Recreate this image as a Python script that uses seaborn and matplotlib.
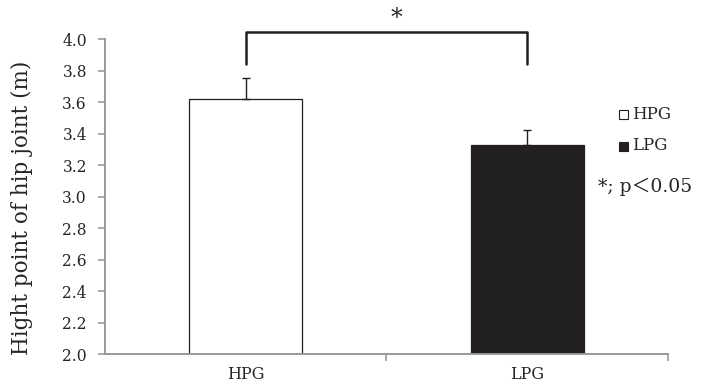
import numpy as np
import pandas as pd
import matplotlib
matplotlib.use("Agg")
import matplotlib.pyplot as plt
import seaborn as sns

groups = ["HPG", "LPG"]
means = [3.62, 3.33]
errors = [0.13, 0.095]
bar_colors = ["white", "#231f20"]
yticks = [2.0, 2.2, 2.4, 2.6, 2.8, 3.0, 3.2, 3.4, 3.6, 3.8, 4.0]

sns.set_style("white")
plt.rcParams['font.family'] = ['DejaVu Serif', 'Noto Sans CJK JP']

df = pd.DataFrame({"group": groups, "height": means})

fig = plt.figure(figsize=(7.07, 3.84), dpi=100)
ax = fig.add_axes([0.1485, 0.0781, 0.7963, 0.8203])

sns.barplot(data=df, x="group", y="height", hue="group", palette=bar_colors,
            width=0.40, edgecolor="#231f20", linewidth=0.9, legend=False, ax=ax)
ax.errorbar(range(len(groups)), means, yerr=[[0, 0], errors], fmt="none",
            ecolor="#231f20", elinewidth=1.0, capsize=2.8, capthick=1.0)

ax.set_ylim(2.0, 4.0)
ax.set_xlim(-0.5, 1.5)
ax.set_yticks(yticks)
ax.set_yticklabels([f"{v:.1f}" for v in yticks], fontsize=11.2)
ax.set_xticks([0, 1])
ax.set_xticklabels(groups, fontsize=11.5)
ax.set_xticks([0.5, 1.5], minor=True)
ax.tick_params(axis="x", which="major", bottom=False, pad=5)
ax.tick_params(axis="x", which="minor", bottom=True, length=5, color="#999999", width=1.2, direction="out")
ax.tick_params(axis="y", left=True, length=5, color="#999999", width=1.2, direction="out", pad=8)
ax.set_xlabel("")
ax.set_ylabel("Hight point of hip joint (m)", fontsize=15.5)
ax.yaxis.set_label_coords(-0.128, 0.463)

for s in ["top", "right"]:
    ax.spines[s].set_visible(False)
for s in ["left", "bottom"]:
    ax.spines[s].set_color("#999999")
    ax.spines[s].set_linewidth(1.4)

# significance bracket
bx = [0.0, 0.0, 1.0, 1.0]
by = [3.84, 4.044, 4.044, 3.84]
ax.plot(bx, by, color="#231f20", lw=1.8, clip_on=False)
ax.text(0.534, 4.06, "*", ha="center", va="bottom", fontsize=17, clip_on=False)

# legend-like texts
for yy, name, col in [(0.702, "HPG", "white"), (0.620, "LPG", "#231f20")]:
    fig.patches.append(plt.Rectangle((0.8755, yy - 0.012), 0.0127, 0.0234, transform=fig.transFigure,
                                     facecolor=col, edgecolor="#231f20", linewidth=0.8))
    fig.text(0.894, yy, name, fontsize=12, va="center", ha="left")
fig.text(0.846, 0.513, "*; p\uff1c0.05", fontsize=13.5, va="center", ha="left")

fig.savefig("out.png", dpi=100)
